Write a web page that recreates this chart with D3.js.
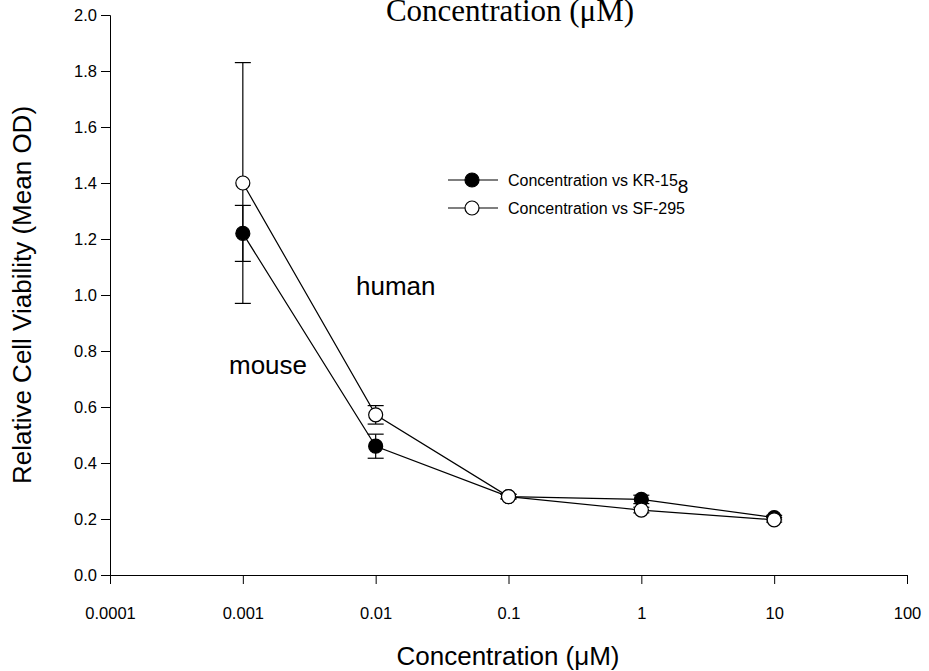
<!DOCTYPE html>
<html>
<head>
<meta charset="utf-8">
<script src="https://cdn.jsdelivr.net/npm/d3@7"></script>
<style>
  body { margin: 0; background: #fff; }
  svg { display: block; }
  .axis text { font-family: "Liberation Sans", Arial, sans-serif; font-size: 16.5px; fill: #000; }
  .axis path, .axis line { stroke: #000; stroke-width: 1; }
</style>
</head>
<body>
<svg id="chart" width="929" height="671"></svg>
<script>
// concentrations in uM
const concentrations = [0.001, 0.01, 0.1, 1, 10];

// KR-158 (mouse), filled markers
const kr158Mean = [1.22, 0.46, 0.28, 0.27, 0.205];
const kr158Err  = [0.10, 0.043, 0.008, 0.015, 0.008];

// SF-295 (human), open markers
const sf295Mean = [1.40, 0.572, 0.28, 0.232, 0.197];
const sf295Err  = [0.43, 0.033, 0.008, 0.01, 0.008];

const xTicks = [0.0001, 0.001, 0.01, 0.1, 1, 10, 100];
const xTickLabels = ["0.0001", "0.001", "0.01", "0.1", "1", "10", "100"];
const yTicks = [0, 0.2, 0.4, 0.6, 0.8, 1.0, 1.2, 1.4, 1.6, 1.8, 2.0];

const series = [
    { name: "KR-15", sub: "8", mean: kr158Mean, err: kr158Err, fill: "#000" },
    { name: "SF-295", sub: "", mean: sf295Mean, err: sf295Err, fill: "#fff" }
];

var font = '"Liberation Sans", Arial, sans-serif';

var svg = d3.select('#chart');
var margin = {top: 15, left: 110, right: 22, bottom: 96},
    width = +svg.attr('width') - margin.left - margin.right,
    height = +svg.attr('height') - margin.top - margin.bottom;

var x = d3.scaleLog().domain([0.0001, 100]).range([0, width]);
var y = d3.scaleLinear().domain([0, 2]).range([height, 0]);

var g = svg.append('g')
    .attr('transform', 'translate(' + margin.left + ',' + margin.top + ')');

// axes
g.append('g')
    .attr('class', 'axis')
    .attr('transform', 'translate(0,' + height + ')')
    .call(d3.axisBottom(x).tickValues(xTicks).tickSizeOuter(0).tickSize(9).tickPadding(23)
        .tickFormat(function(d, i) { return xTickLabels[i]; }));

g.append('g')
    .attr('class', 'axis')
    .call(d3.axisLeft(y).tickValues(yTicks).tickSizeOuter(0).tickSize(9).tickPadding(4)
        .tickFormat(d3.format('.1f')));

// connecting lines
var line = d3.line()
    .x(function(d) { return x(d[0]); })
    .y(function(d) { return y(d[1]); });

series.forEach(function(s) {
    g.append('path')
        .datum(concentrations.map(function(c, i) { return [c, s.mean[i]]; }))
        .attr('d', line)
        .attr('fill', 'none')
        .attr('stroke', '#000')
        .attr('stroke-width', 1.2);
});

// error bars
var capW = 8;
series.forEach(function(s) {
    var eb = g.append('g').attr('stroke', '#000').attr('stroke-width', 1.2);
    concentrations.forEach(function(c, i) {
        var cx = x(c), lo = y(s.mean[i] - s.err[i]), hi = y(s.mean[i] + s.err[i]);
        eb.append('line').attr('x1', cx).attr('x2', cx).attr('y1', lo).attr('y2', hi);
        eb.append('line').attr('x1', cx - capW).attr('x2', cx + capW).attr('y1', lo).attr('y2', lo);
        eb.append('line').attr('x1', cx - capW).attr('x2', cx + capW).attr('y1', hi).attr('y2', hi);
    });
});

// markers
series.forEach(function(s) {
    g.append('g').selectAll('circle')
        .data(concentrations.map(function(c, i) { return [c, s.mean[i]]; }))
      .enter().append('circle')
        .attr('cx', function(d) { return x(d[0]); })
        .attr('cy', function(d) { return y(d[1]); })
        .attr('r', 7)
        .attr('fill', s.fill)
        .attr('stroke', '#000')
        .attr('stroke-width', 1.2);
});

// legend
var legend = svg.append('g')
    .attr('font-family', font)
    .attr('font-size', 16);

series.forEach(function(s, i) {
    var ly = 180 + i * 28;
    var row = legend.append('g').attr('transform', 'translate(448,' + ly + ')');
    row.append('line').attr('x1', 0).attr('x2', 50).attr('y1', 0).attr('y2', 0)
        .attr('stroke', '#000').attr('stroke-width', 1.2);
    row.append('circle').attr('cx', 24).attr('cy', 0).attr('r', 7)
        .attr('fill', s.fill).attr('stroke', '#000').attr('stroke-width', 1.2);
    var t = row.append('text').attr('x', 60).attr('y', 6)
        .text('Concentration vs ' + s.name);
    if (s.sub) {
        t.append('tspan').attr('dy', 7).attr('font-size', 19).text(s.sub);
    }
});

// annotations
svg.append('text').attr('x', 356).attr('y', 295)
    .attr('font-family', font).attr('font-size', 26)
    .text('human');
svg.append('text').attr('x', 229).attr('y', 374)
    .attr('font-family', font).attr('font-size', 26)
    .text('mouse');

// axis titles
svg.append('text')
    .attr('transform', 'translate(31,' + (margin.top + height / 2) + ') rotate(-90)')
    .attr('text-anchor', 'middle').attr('font-family', font).attr('font-size', 26)
    .text('Relative Cell Viability (Mean OD)');

svg.append('text')
    .attr('x', 508).attr('y', 665)
    .attr('text-anchor', 'middle').attr('font-family', font).attr('font-size', 26)
    .text('Concentration (\u03bcM)');

// top title, partly off the page as in the original
svg.append('text')
    .attr('x', 510).attr('y', 21)
    .attr('text-anchor', 'middle')
    .attr('font-family', '"Liberation Serif", "Times New Roman", serif')
    .attr('font-size', 31)
    .text('Concentration (\u03bcM)');
</script>
</body>
</html>
